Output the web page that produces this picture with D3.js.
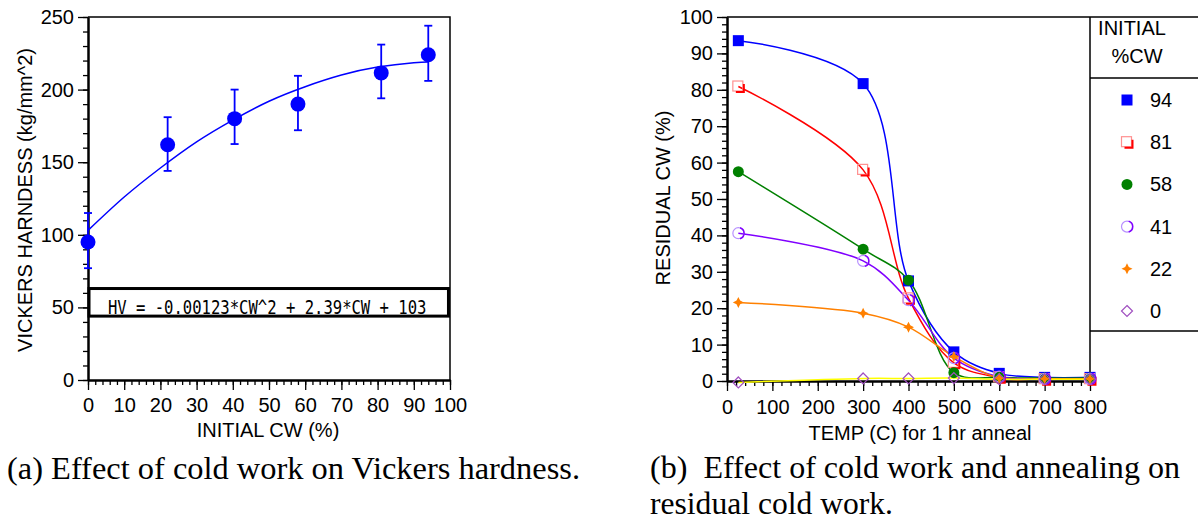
<!DOCTYPE html>
<html>
<head>
<meta charset="utf-8">
<script src="https://cdn.jsdelivr.net/npm/d3@7"></script>
<style>
    body { margin: 0; background: #fff; }
    svg text { font-family: "Liberation Sans", Arial, sans-serif; fill: #000; }
</style>
</head>
<body>
<svg id="drawing_region"></svg>
<script>
// ---- (a) hardness vs cold work ----
const cw     = [0, 22, 40.5, 58, 81, 94];
const hv     = [95, 162, 180, 190, 211.5, 224];
const hvLow  = [77, 144, 162.5, 172, 194, 206];
const hvHigh = [115, 181, 200, 209.5, 231, 244];
// fitted curve
const fitCw = [0, 10, 20, 30, 40, 50, 60, 70, 80, 90, 94];
const fitHv = [103, 126, 146, 164, 179, 192, 202, 210, 215.5, 218.5, 219];
const cwTicks = [0, 10, 20, 30, 40, 50, 60, 70, 80, 90, 100];
const hvTicks = [0, 50, 100, 150, 200, 250];
const equation = "HV = -0.00123*CW^2 + 2.39*CW + 103";

// ---- (b) residual cold work vs anneal temperature ----
const temps = [25, 300, 400, 500, 600, 700, 800];
const initialCw = ["94", "81", "58", "41", "22", "0"];
const res94 = [93.5, 81.7, 27.5, 8, 2.1, 1, 1];
const res81 = [80.9, 58, 22.7, 5, 1, 0.5, 0.5];
const res58 = [57.5, 36.2, 27.7, 2.3, 1, 0.8, 0.8];
const res41 = [40.6, 33, 22.2, 6.3, 1.2, 0.6, 0.6];
const res22 = [21.6, 18.6, 14.8, 6.7, 0.8, 0.6, 0.6];
const res0  = [-0.4, 0.7, 0.7, 0.8, 0.5, 0.5, 0.5];
const residual = [res94, res81, res58, res41, res22, res0];
const tempTicks = [0, 100, 200, 300, 400, 500, 600, 700, 800];
const resTicks = [0, 10, 20, 30, 40, 50, 60, 70, 80, 90, 100];

const lineColors = ["#0000ff", "#ff0000", "#008000", "#8000ff", "#ff8000", "#ffff00"];
const markerKinds = ["square", "opensquare", "circle", "opencircle", "star", "diamond"];

const svg = d3.select("#drawing_region")
    .attr("width", 1198)
    .attr("height", 520);

function styleAxis(g, labels) {
    g.select(".domain").attr("stroke", "#000").attr("stroke-width", 2);
    g.selectAll(".tick line").attr("stroke", "#000").attr("stroke-width", 1.3);
    g.selectAll(".tick text").attr("font-size", 20);
    if (!labels) g.selectAll(".tick text").remove();
}

function drawAxes(xs, ys, xMajor, xMinor, yMajor, yMinor, xPad, yPad) {
    const x0 = xs.range()[0], y0 = ys.range()[0];
    svg.append("g").attr("transform", `translate(0,${y0})`)
        .call(d3.axisBottom(xs).tickValues(xMinor).tickSize(5).tickSizeOuter(0).tickFormat(""))
        .call(g => styleAxis(g, false));
    svg.append("g").attr("transform", `translate(0,${y0})`)
        .call(d3.axisBottom(xs).tickValues(xMajor).tickSize(10).tickPadding(xPad).tickSizeOuter(0))
        .call(g => styleAxis(g, true));
    svg.append("g").attr("transform", `translate(${x0},0)`)
        .call(d3.axisLeft(ys).tickValues(yMinor).tickSize(5).tickSizeOuter(0).tickFormat(""))
        .call(g => styleAxis(g, false));
    svg.append("g").attr("transform", `translate(${x0},0)`)
        .call(d3.axisLeft(ys).tickValues(yMajor).tickSize(10).tickPadding(yPad).tickSizeOuter(0))
        .call(g => styleAxis(g, true));
}

// ================= chart (a) =================
const xA = d3.scaleLinear().domain([0, 100]).range([88, 450]);
const yA = d3.scaleLinear().domain([0, 250]).range([380, 17]);

drawAxes(xA, yA, cwTicks, d3.range(0, 101, 2), hvTicks, d3.range(0, 251, 10), 8, 4);

// frame top / right
svg.append("path")
    .attr("d", `M${xA(0)},${yA(250)}H${xA(100)}V${yA(0)}`)
    .attr("fill", "none").attr("stroke", "#000").attr("stroke-width", 1.5);

// equation box
svg.append("rect")
    .attr("x", xA(0) + 1).attr("y", yA(63))
    .attr("width", xA(99.3) - xA(0)).attr("height", yA(44) - yA(63))
    .attr("fill", "#fff").attr("stroke", "#000").attr("stroke-width", 3);
svg.append("text")
    .attr("x", xA(5.5)).attr("y", yA(50) + 7)
    .attr("font-size", 20)
    .style("font-family", "'DejaVu Sans Mono', monospace")
    .attr("textLength", xA(93.5) - xA(5.5))
    .attr("lengthAdjust", "spacingAndGlyphs")
    .attr("fill", "#111")
    .text(equation);

const fitLine = d3.line()
    .x((d, i) => xA(fitCw[i]))
    .y(d => yA(d))
    .curve(d3.curveNatural);
svg.append("path")
    .attr("d", fitLine(fitHv))
    .attr("fill", "none").attr("stroke", "#0000ff").attr("stroke-width", 1.5);

const errs = svg.append("g").attr("stroke", "#0000ff").attr("stroke-width", 1.8);
cw.forEach((c, i) => {
    errs.append("line")
        .attr("x1", xA(c)).attr("x2", xA(c))
        .attr("y1", yA(hvLow[i])).attr("y2", yA(hvHigh[i]));
    [hvLow[i], hvHigh[i]].forEach(v => {
        errs.append("line")
            .attr("x1", xA(c) - 4).attr("x2", xA(c) + 4)
            .attr("y1", yA(v)).attr("y2", yA(v));
    });
});
svg.selectAll("circle.hv")
    .data(hv)
    .enter()
    .append("circle")
    .attr("class", "hv")
    .attr("cx", (d, i) => xA(cw[i]))
    .attr("cy", d => yA(d))
    .attr("r", 7.5)
    .attr("fill", "#0000ff");

svg.append("text")
    .attr("x", 268).attr("y", 437)
    .attr("text-anchor", "middle").attr("font-size", 20)
    .text("INITIAL CW (%)");
svg.append("text")
    .attr("transform", "translate(32,200) rotate(-90)")
    .attr("text-anchor", "middle").attr("font-size", 20)
    .text("VICKERS HARNDESS (kg/mm^2)");

// ================= chart (b) =================
const xB = d3.scaleLinear().domain([0, 800]).range([727, 1090]);
const yB = d3.scaleLinear().domain([0, 100]).range([381, 17]);

drawAxes(xB, yB, tempTicks, d3.range(0, 801, 20), resTicks, d3.range(0, 101, 2), 9, 4);

svg.append("path")
    .attr("d", `M${xB(0)},${yB(100)}H1198M${xB(800)},${yB(100)}V${yB(0)}`)
    .attr("fill", "none").attr("stroke", "#000").attr("stroke-width", 1.5);
svg.append("path")
    .attr("d", `M${xB(800)},78H1198M${xB(800)},331H1198`)
    .attr("fill", "none").attr("stroke", "#000").attr("stroke-width", 1.5);

function drawMarker(g, kind, color, x, y) {
    const s = 5.5;
    if (kind === "square") {
        g.append("rect").attr("x", x - s).attr("y", y - s)
            .attr("width", 2 * s).attr("height", 2 * s).attr("fill", color);
    } else if (kind === "opensquare") {
        g.append("rect").attr("x", x - s).attr("y", y - s)
            .attr("width", 2 * s - 1).attr("height", 2 * s - 1)
            .attr("fill", "none").attr("stroke", "#ff9090").attr("stroke-width", 1.2);
        g.append("path")
            .attr("d", `M${x + s},${y - s + 3}V${y + s}H${x - s + 3}`)
            .attr("fill", "none").attr("stroke", color).attr("stroke-width", 2);
    } else if (kind === "circle") {
        g.append("circle").attr("cx", x).attr("cy", y).attr("r", s).attr("fill", color);
    } else if (kind === "opencircle") {
        g.append("circle").attr("cx", x).attr("cy", y).attr("r", s)
            .attr("fill", "none").attr("stroke", "#b890ff").attr("stroke-width", 1.2);
        g.append("path")
            .attr("d", d3.arc()({innerRadius: s - 0.5, outerRadius: s + 1, startAngle: 0.3, endAngle: Math.PI - 0.3}))
            .attr("transform", `translate(${x},${y})`)
            .attr("fill", color);
    } else if (kind === "star") {
        const a = 1.8;
        g.append("path")
            .attr("d", `M${x},${y - s}L${x + a},${y - a}L${x + s},${y}L${x + a},${y + a}` +
                       `L${x},${y + s}L${x - a},${y + a}L${x - s},${y}L${x - a},${y - a}Z`)
            .attr("fill", color);
    } else {
        g.append("path")
            .attr("d", `M${x},${y - s}L${x + s},${y}L${x},${y + s}L${x - s},${y}Z`)
            .attr("fill", "none").attr("stroke", "#a050c0").attr("stroke-width", 1.2);
    }
}

const resLine = d3.line()
    .x((d, i) => xB(temps[i]))
    .y(d => yB(d))
    .curve(d3.curveCatmullRom.alpha(0.5));

svg.append("g")
    .selectAll("path")
    .data(residual)
    .enter()
    .append("path")
    .attr("d", d => resLine(d))
    .attr("fill", "none")
    .attr("stroke", (d, i) => lineColors[i])
    .attr("stroke-width", 1.5);

const markers = svg.append("g");
residual.forEach((series, k) => {
    series.forEach((v, i) => drawMarker(markers, markerKinds[k], lineColors[k], xB(temps[i]), yB(v)));
});

// legend
const legend = svg.append("g");
legend.append("text").attr("x", 1132).attr("y", 35)
    .attr("text-anchor", "middle").attr("font-size", 20).text("INITIAL");
legend.append("text").attr("x", 1137).attr("y", 63)
    .attr("text-anchor", "middle").attr("font-size", 20).text("%CW");
initialCw.forEach((lab, k) => {
    const yy = 100 + k * 42.2;
    drawMarker(legend, markerKinds[k], lineColors[k], 1127, yy);
    legend.append("text").attr("x", 1150).attr("y", yy + 7)
        .attr("font-size", 20).text(lab);
});

svg.append("text")
    .attr("x", 920).attr("y", 440)
    .attr("text-anchor", "middle").attr("font-size", 20)
    .text("TEMP (C) for 1 hr anneal");
svg.append("text")
    .attr("transform", "translate(670,198) rotate(-90)")
    .attr("text-anchor", "middle").attr("font-size", 20)
    .text("RESIDUAL CW (%)");

// captions
const captions = [
    {t: "(a) Effect of cold work on Vickers hardness.", x: 7, y: 479, w: 573},
    {t: "(b)\u00a0 Effect of cold work and annealing on", x: 650, y: 478, w: 530},
    {t: "residual cold work.", x: 650, y: 514, w: 243}
];
captions.forEach(c => {
    svg.append("text")
        .attr("x", c.x).attr("y", c.y)
        .attr("font-size", 31)
        .style("font-family", "'Liberation Serif', 'Times New Roman', serif")
        .attr("textLength", c.w)
        .attr("lengthAdjust", "spacingAndGlyphs")
        .text(c.t);
});
</script>
</body>
</html>
